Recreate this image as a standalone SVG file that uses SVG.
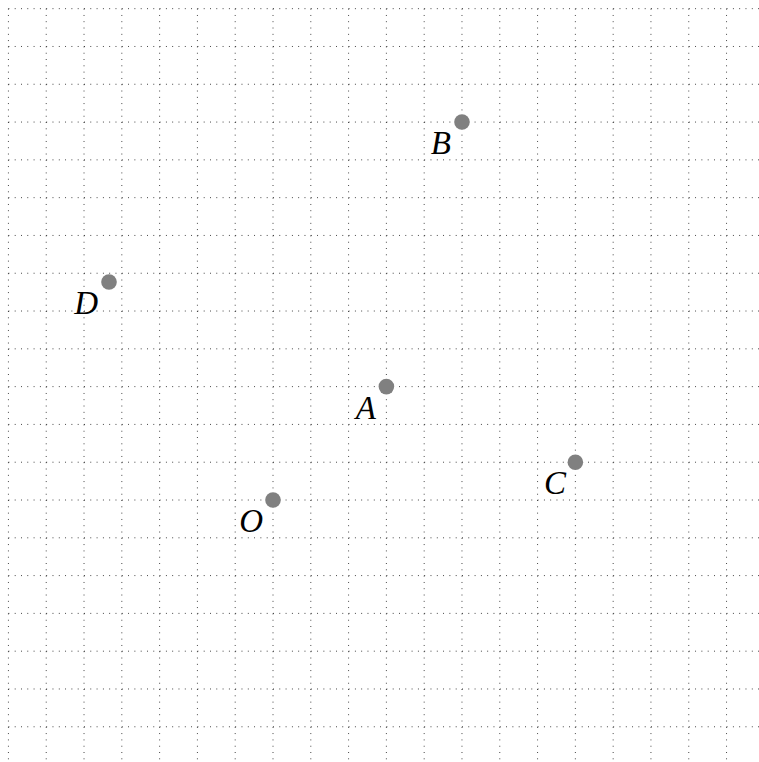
<svg xmlns="http://www.w3.org/2000/svg" width="759" height="762" viewBox="0 0 759 762">
<style>
.grid{fill:none;stroke:#000;stroke-width:0.8;stroke-dasharray:0.9 5.4}
.pt{fill:#808080}
.lbl{font-family:"Liberation Serif","Times New Roman",serif;font-style:italic;font-size:33px;fill:#000;text-anchor:end}
</style>
<rect width="759" height="762" fill="#fff"/>
<g id="grid" class="grid">
<path d="M8.43 8.67V762M46.23 8.67V762M84.02 8.67V762M121.82 8.67V762M159.61 8.67V762M197.41 8.67V762M235.2 8.67V762M273 8.67V762M310.8 8.67V762M348.59 8.67V762M386.39 8.67V762M424.18 8.67V762M461.98 8.67V762M499.77 8.67V762M537.57 8.67V762M575.36 8.67V762M613.16 8.67V762M650.95 8.67V762M688.75 8.67V762M726.54 8.67V762"/>
<path d="M8.43 8.67H759M8.43 46.47H759M8.43 84.26H759M8.43 122.06H759M8.43 159.85H759M8.43 197.65H759M8.43 235.44H759M8.43 273.24H759M8.43 311.03H759M8.43 348.83H759M8.43 386.62H759M8.43 424.42H759M8.43 462.21H759M8.43 500H759M8.43 537.8H759M8.43 575.59H759M8.43 613.39H759M8.43 651.18H759M8.43 688.98H759M8.43 726.77H759"/>
</g>
<g id="B"><circle class="pt" cx="461.98" cy="122.06" r="7.8"/><text class="lbl" x="451" y="154">B</text></g>
<g id="D"><circle class="pt" cx="109" cy="282" r="7.8"/><text class="lbl" x="98" y="314">D</text></g>
<g id="A"><circle class="pt" cx="386.39" cy="386.62" r="7.8"/><text class="lbl" x="376" y="419">A</text></g>
<g id="C"><circle class="pt" cx="575.36" cy="462.21" r="7.8"/><text class="lbl" x="566" y="494">C</text></g>
<g id="O"><circle class="pt" cx="273" cy="500" r="7.8"/><text class="lbl" x="263" y="532">O</text></g>
</svg>
